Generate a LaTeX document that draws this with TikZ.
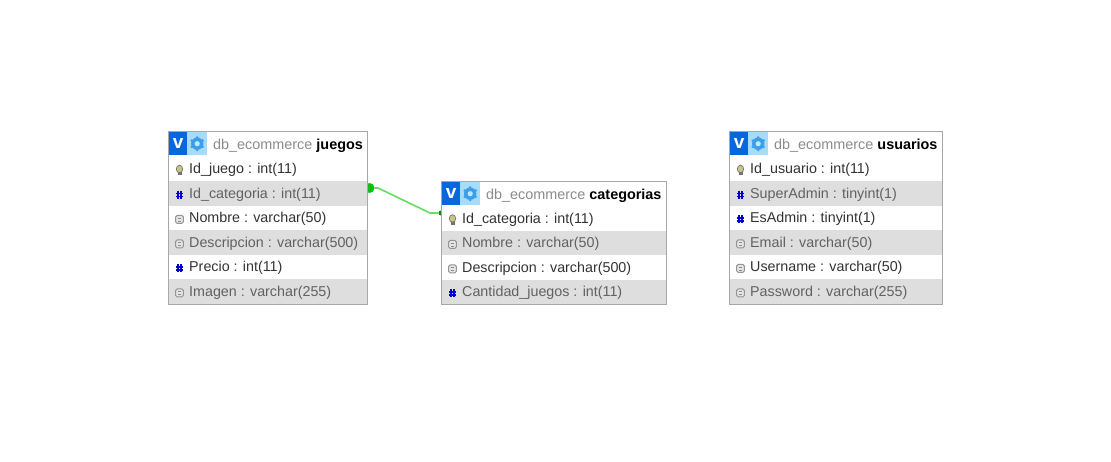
\documentclass[tikz,border=0pt]{standalone}
\usepackage{fontspec}
\setmainfont{Liberation Sans}
\definecolor{rowgray}{HTML}{DEDEDE}
\definecolor{frameline}{HTML}{A8A8A8}
\definecolor{fkgreen}{HTML}{66DD66}
\definecolor{fkdark}{HTML}{10C010}
\definecolor{btnblue}{HTML}{0A66DC}
\definecolor{btnlight}{HTML}{A6DCFA}
\definecolor{gearblue}{HTML}{3A9EE8}
\tikzset{
  rowbox/.style={rectangle,anchor=north west,inner sep=0pt,minimum height=24.5pt},
  rowtext/.style={anchor=base west,inner sep=0pt,font=\fontsize{14.3}{16}\selectfont},
  whiterow/.style={rowbox,fill=white},
  grayrow/.style={rowbox,fill=rowgray},
  framebox/.style={draw=frameline,line width=1pt},
  vbutton/.style={rectangle,anchor=north west,inner sep=0pt,minimum width=18pt,minimum height=23pt,fill=btnblue,text=white,font=\fontsize{19}{19}\bfseries},
  gearbutton/.style={rectangle,anchor=north west,inner sep=0pt,minimum width=20pt,minimum height=23pt,fill=btnlight},
  titletext/.style={anchor=base west,inner sep=0pt,font=\fontsize{14.4}{16}\selectfont,text=black!45},
  fkline/.style={draw=fkgreen,line width=1.6pt,line join=round},
  fkbig/.style={circle,fill=fkdark,inner sep=0pt,minimum size=10pt},
  fksmall/.style={circle,fill=fkdark!70!black,inner sep=0pt,minimum size=5pt},
  keyicon/.pic={
    \fill[black!55] (-2,0) rectangle (2,5);
    \fill[black!40!yellow!60!white] (0,-1.5) ellipse (3.2pt and 3.8pt);
    \draw[black!55,line width=.7pt] (0,-1.5) ellipse (3.2pt and 3.8pt);
  },
  numicon/.pic={
    \draw[blue!80!black,line width=1.3pt] (-1.4,-4) -- (-1.4,4) (1.4,-4) -- (1.4,4) (-3.6,-1.4) -- (3.6,-1.4) (-3.6,1.4) -- (3.6,1.4);
  },
  fieldicon/.pic={
    \draw[black!42,fill=black!10,line width=1pt,rounded corners=1.5pt] (-3.8,-4) rectangle (3.8,4);
    \draw[black!45,line width=.7pt] (-1.8,-1.4) -- (1.8,-1.4) (-1.8,1.4) -- (1.8,1.4);
  }
}
% one table row: name, x, y, width, row style, icon, text colour, text
\newcommand{\tablerow}[8]{
  \node[#5,minimum width=#4pt] (#1) at (#2,#3) {};
  \pic at ($(#1.west)+(10.5,1.5)$) {#6};
  \node[rowtext,text=#7] (#1text) at ($(#1.west)+(20,5)$) {#8};
}
% header of a table: name, x, y, width, table name
\newcommand{\tablehead}[5]{
  \node[vbutton] (#1v) at (#2+1,#3+1) {v};
  \node[gearbutton] (#1gear) at (#2+19,#3+1) {};
  \fill[gearblue] (#1gear.center) circle (6.2pt);
  \foreach \a in {30,90,...,330}
    \fill[gearblue] (#1gear.center) ++(\a:6.4) circle (1.3pt);
  \fill[btnlight!70!white] (#1gear.center) circle (2.6pt);
  \node[titletext] (#1title) at (#2+45,#3+18) {db\_ecommerce \textcolor{black}{\bfseries #5}};
}
\usetikzlibrary{calc}
\begin{document}
\begin{tikzpicture}[x=1pt,y=-1pt]
  \useasboundingbox (0,0) rectangle (1111,461);
  \fill[white] (0,0) rectangle (1111,461);

  % relation
  \node[fkbig] (fkout) at (369.5,188) {};
  \node[fksmall] (fkin) at (441,213) {};
  \draw[fkline] (fkout) -- (378,188) -- (430,213) -- (fkin);

  % juegos
  \tablehead{juegos}{168}{131}{200}{juegos}
  \tablerow{juegosa}{169}{156.5}{198}{whiterow}{keyicon}{black!80}{Id\_juego : int(11)}
  \tablerow{juegosb}{169}{181}{198}{grayrow}{numicon}{black!62}{Id\_categoria : int(11)}
  \tablerow{juegosc}{169}{205.5}{198}{whiterow}{fieldicon}{black!80}{Nombre : varchar(50)}
  \tablerow{juegosd}{169}{230}{198}{grayrow}{fieldicon}{black!62}{Descripcion : varchar(500)}
  \tablerow{juegose}{169}{254.5}{198}{whiterow}{numicon}{black!80}{Precio : int(11)}
  \tablerow{juegosf}{169}{279}{198}{grayrow}{fieldicon}{black!62}{Imagen : varchar(255)}
  \draw[framebox] (168.5,131.5) rectangle (367.5,304.5);

  % categorias
  \tablehead{cat}{441}{181}{226}{categorias}
  \tablerow{cata}{442}{206}{224}{whiterow}{keyicon}{black!80}{Id\_categoria : int(11)}
  \tablerow{catb}{442}{230.5}{224}{grayrow}{fieldicon}{black!62}{Nombre : varchar(50)}
  \tablerow{catc}{442}{255}{224}{whiterow}{fieldicon}{black!80}{Descripcion : varchar(500)}
  \tablerow{catd}{442}{279.5}{224}{grayrow}{numicon}{black!62}{Cantidad\_juegos : int(11)}
  \draw[framebox] (441.5,181.5) rectangle (666.5,304.5);

  % usuarios
  \tablehead{usu}{729}{131}{214}{usuarios}
  \tablerow{usua}{730}{156.5}{212}{whiterow}{keyicon}{black!80}{Id\_usuario : int(11)}
  \tablerow{usub}{730}{181}{212}{grayrow}{numicon}{black!62}{SuperAdmin : tinyint(1)}
  \tablerow{usuc}{730}{205.5}{212}{whiterow}{numicon}{black!80}{EsAdmin : tinyint(1)}
  \tablerow{usud}{730}{230}{212}{grayrow}{fieldicon}{black!62}{Email : varchar(50)}
  \tablerow{usue}{730}{254.5}{212}{whiterow}{fieldicon}{black!80}{Username : varchar(50)}
  \tablerow{usuf}{730}{279}{212}{grayrow}{fieldicon}{black!62}{Password : varchar(255)}
  \draw[framebox] (729.5,131.5) rectangle (942.5,304.5);
\end{tikzpicture}
\end{document}
